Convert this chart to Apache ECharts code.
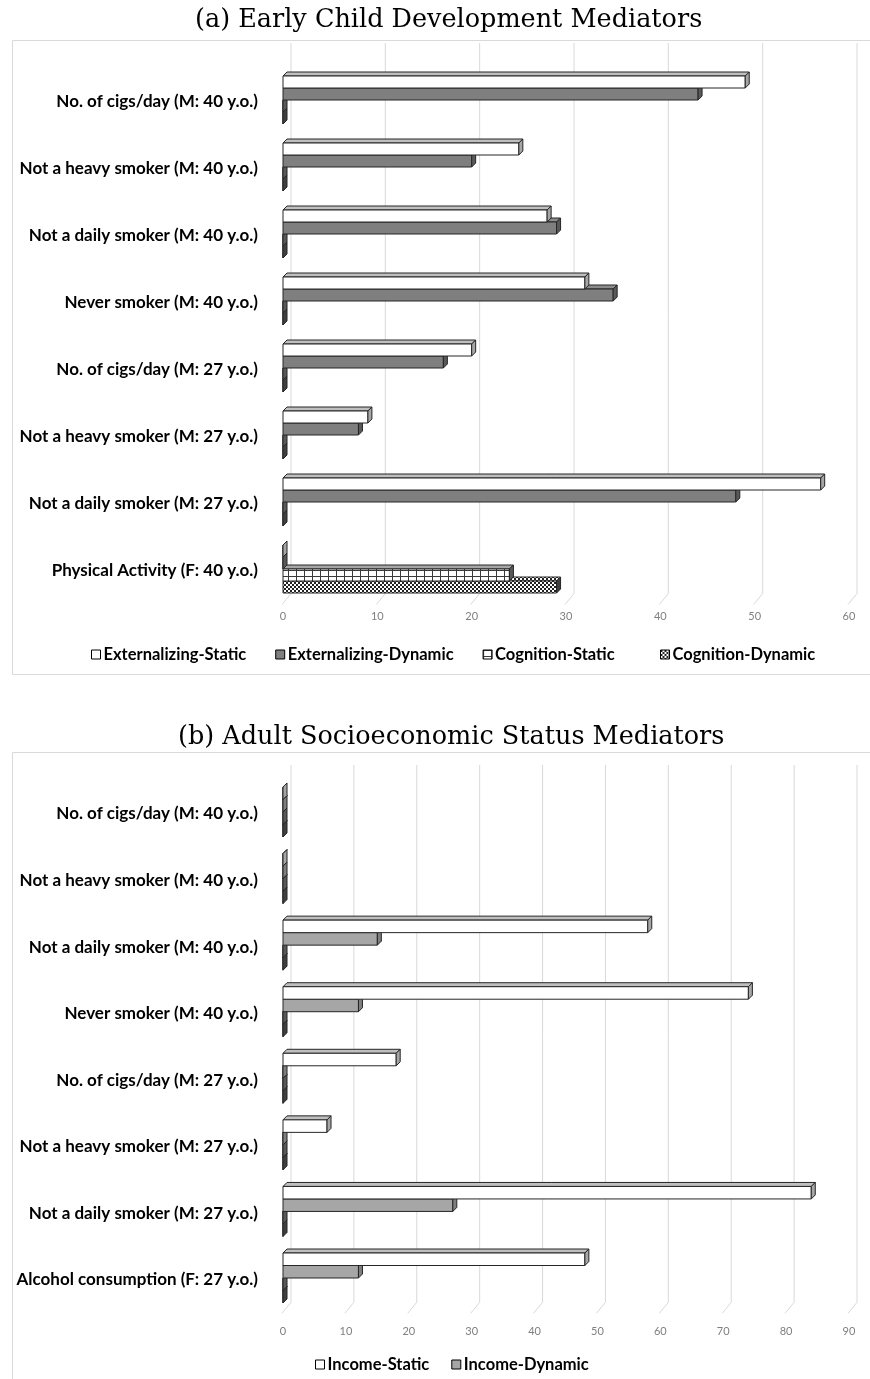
<!DOCTYPE html>
<html>
<head>
<meta charset="utf-8">
<script src="https://cdn.jsdelivr.net/npm/echarts@6/dist/echarts.min.js"></script>
<style>
html,body{margin:0;padding:0;background:#fff;}
#chart{width:870px;height:1379px;}
</style>
</head>
<body>
<div id="chart"></div>
<script>
// ---------- data ----------
const categoriesA = [
  'No. of cigs/day (M: 40 y.o.)',
  'Not a heavy smoker (M: 40 y.o.)',
  'Not a daily smoker (M: 40 y.o.)',
  'Never smoker (M: 40 y.o.)',
  'No. of cigs/day (M: 27 y.o.)',
  'Not a heavy smoker (M: 27 y.o.)',
  'Not a daily smoker (M: 27 y.o.)',
  'Physical Activity (F: 40 y.o.)'
];
const externalizingStatic  = [49, 25, 28, 32, 20, 9, 57, 0];
const externalizingDynamic = [44, 20, 29, 35, 17, 8, 48, 0];
const cognitionStatic      = [0, 0, 0, 0, 0, 0, 0, 24];
const cognitionDynamic     = [0, 0, 0, 0, 0, 0, 0, 29];
const ticksA = [0, 10, 20, 30, 40, 50, 60];

const categoriesB = [
  'No. of cigs/day (M: 40 y.o.)',
  'Not a heavy smoker (M: 40 y.o.)',
  'Not a daily smoker (M: 40 y.o.)',
  'Never smoker (M: 40 y.o.)',
  'No. of cigs/day (M: 27 y.o.)',
  'Not a heavy smoker (M: 27 y.o.)',
  'Not a daily smoker (M: 27 y.o.)',
  'Alcohol consumption (F: 27 y.o.)'
];
const incomeStatic  = [0, 0, 58, 74, 18, 7, 84, 48];
const incomeDynamic = [0, 0, 15, 12, 0, 0, 27, 12];
const otherStatic   = [0, 0, 0, 0, 0, 0, 0, 0];
const otherDynamic  = [0, 0, 0, 0, 0, 0, 0, 0];
const ticksB = [0, 10, 20, 30, 40, 50, 60, 70, 80, 90];

// ---------- patterns ----------
function gridPattern() {
  const c = document.createElement('canvas'); c.width = 8; c.height = 6;
  const g = c.getContext('2d');
  g.fillStyle = '#fff'; g.fillRect(0, 0, 8, 6);
  g.strokeStyle = '#3a3a3a'; g.lineWidth = 1;
  g.beginPath(); g.moveTo(0.5, 0); g.lineTo(0.5, 6); g.moveTo(0, 0.5); g.lineTo(8, 0.5); g.stroke();
  return { image: c, repeat: 'repeat' };
}
function checkerPattern() {
  const c = document.createElement('canvas'); c.width = 4; c.height = 4;
  const g = c.getContext('2d');
  g.fillStyle = '#fff'; g.fillRect(0, 0, 4, 4);
  g.fillStyle = '#222'; g.fillRect(0, 0, 2, 2); g.fillRect(2, 2, 2, 2);
  return { image: c, repeat: 'repeat' };
}
const gridPat = gridPattern();
const checkPat = checkerPattern();

const EDGE = '#262626';
const DEPTH = 4;

function barRenderer(idx, n, h, shift, front, topC, sideC) {
  return function (params, api) {
    const v = api.value(0), c = api.value(1);
    const s = api.coord([0, c]);
    const e = api.coord([v, c]);
    const gh = h * n;
    const top = s[1] - gh / 2 - shift + idx * h;
    const x0 = s[0], x1 = e[0], d = DEPTH;
    const st = { stroke: EDGE, lineWidth: 1 };
    return {
      type: 'group',
      children: [
        { type: 'polygon', shape: { points: [[x0, top], [x0 + d, top - d], [x1 + d, top - d], [x1, top]] },
          style: Object.assign({ fill: topC }, st) },
        { type: 'rect', shape: { x: x0, y: top, width: Math.max(0, x1 - x0), height: h },
          style: Object.assign({ fill: front }, st) },
        { type: 'polygon', shape: { points: [[x1, top], [x1 + d, top - d], [x1 + d, top + h - d], [x1, top + h]] },
          style: Object.assign({ fill: sideC }, st) }
      ]
    };
  };
}

function gridRenderer(topY, backOff, dropY) {
  return function (params, api) {
    const cs = params.coordSys;
    const x = api.coord([api.value(0), 0])[0];
    const yb = cs.y + cs.height;
    return {
      type: 'polyline',
      shape: { points: [[x + backOff, topY], [x + backOff, yb - dropY], [x - 1, yb]] },
      style: { stroke: '#d9d9d9', lineWidth: 1, fill: null }
    };
  };
}

function pairs(arr) { return arr.map((v, i) => [v, i]); }

function barSeries(name, arr, gi, idx, n, h, front, topC, sideC) {
  return {
    type: 'custom', name: name, xAxisIndex: gi, yAxisIndex: gi,
    data: pairs(arr), encode: { x: 0, y: 1 },
    z: 10 - idx, silent: true,
    itemStyle: { color: front, borderColor: EDGE, borderWidth: 1 },
    renderItem: barRenderer(idx, n, h, 2, front, topC, sideC)
  };
}

const labelFont = 'Lato';
const legendText = { fontFamily: labelFont, fontWeight: 'bold', fontSize: 16.5, color: '#000', padding: [0, 0, 0, -2] };
const chart = echarts.init(document.getElementById('chart'), null, { renderer: 'canvas' });

const option = {
  animation: false,
  backgroundColor: '#fff',
  title: [
    { text: '(a) Early Child Development Mediators', left: 190, top: 2,
      textStyle: { fontFamily: 'DejaVu Serif', fontWeight: 'normal', fontSize: 25.5, color: '#000' } },
    { text: '(b) Adult Socioeconomic Status Mediators', left: 173, top: 719,
      textStyle: { fontFamily: 'DejaVu Serif', fontWeight: 'normal', fontSize: 25.5, color: '#000' } }
  ],
  graphic: [
    { type: 'rect', shape: { x: 12.5, y: 40.5, width: 880, height: 634 }, style: { fill: null, stroke: '#d9d9d9', lineWidth: 1 }, silent: true },
    { type: 'rect', shape: { x: 12.5, y: 752.5, width: 880, height: 660 }, style: { fill: null, stroke: '#d9d9d9', lineWidth: 1 }, silent: true }
  ],
  legend: [
    { data: ['Externalizing-Static', 'Externalizing-Dynamic', 'Cognition-Static'],
      left: 86, top: 641, itemWidth: 9, itemHeight: 9, itemGap: 29, icon: 'rect',
      itemStyle: { borderColor: '#000', borderWidth: 1 }, textStyle: legendText },
    { data: ['Cognition-Dynamic'],
      left: 655, top: 641, itemWidth: 9, itemHeight: 9, icon: 'rect',
      itemStyle: { borderColor: '#000', borderWidth: 1 }, textStyle: legendText },
    { data: ['Income-Static', 'Income-Dynamic'],
      left: 310, top: 1351, itemWidth: 9, itemHeight: 9, itemGap: 22, icon: 'rect',
      itemStyle: { borderColor: '#000', borderWidth: 1 }, textStyle: legendText }
  ],
  grid: [
    { left: 283, right: 21, top: 68.5, height: 536 },
    { left: 283, right: 21, top: 780.7, height: 532.6 }
  ],
  xAxis: [
    { type: 'value', gridIndex: 0, min: 0, max: 60, interval: 10,
      axisLine: { show: false }, axisTick: { show: false }, splitLine: { show: false },
      axisLabel: { margin: 6, fontFamily: labelFont, fontSize: 11, color: '#7f7f7f' } },
    { type: 'value', gridIndex: 1, min: 0, max: 90, interval: 10,
      axisLine: { show: false }, axisTick: { show: false }, splitLine: { show: false },
      axisLabel: { margin: 13, fontFamily: labelFont, fontSize: 11, color: '#7f7f7f' } }
  ],
  yAxis: [
    { type: 'category', gridIndex: 0, data: categoriesA, inverse: true,
      axisLine: { show: false }, axisTick: { show: false }, splitLine: { show: false },
      axisLabel: { margin: 25, fontFamily: labelFont, fontWeight: 'bold', fontSize: 17, color: '#000' } },
    { type: 'category', gridIndex: 1, data: categoriesB, inverse: true,
      axisLine: { show: false }, axisTick: { show: false }, splitLine: { show: false },
      axisLabel: { margin: 25, fontFamily: labelFont, fontWeight: 'bold', fontSize: 17, color: '#000' } }
  ],
  series: [
    { type: 'custom', name: 'gridA', xAxisIndex: 0, yAxisIndex: 0, data: ticksA.map(t => [t, 0]),
      encode: { x: 0, y: 1 }, z: 1, silent: true, renderItem: gridRenderer(43, 8, 11) },
    { type: 'custom', name: 'gridB', xAxisIndex: 1, yAxisIndex: 1, data: ticksB.map(t => [t, 0]),
      encode: { x: 0, y: 1 }, z: 1, silent: true, renderItem: gridRenderer(765, 8, 11) },

    barSeries('Externalizing-Static', externalizingStatic, 0, 0, 4, 12, '#ffffff', '#bfbfbf', '#a6a6a6'),
    barSeries('Externalizing-Dynamic', externalizingDynamic, 0, 1, 4, 12, '#7f7f7f', '#8c8c8c', '#595959'),
    barSeries('Cognition-Static', cognitionStatic, 0, 2, 4, 12, gridPat, '#a6a6a6', '#595959'),
    barSeries('Cognition-Dynamic', cognitionDynamic, 0, 3, 4, 12, checkPat, checkPat, '#404040'),

    barSeries('Income-Static', incomeStatic, 1, 0, 4, 12.5, '#ffffff', '#bfbfbf', '#a6a6a6'),
    barSeries('Income-Dynamic', incomeDynamic, 1, 1, 4, 12.5, '#a6a6a6', '#a6a6a6', '#7f7f7f'),
    barSeries('Other-Static', otherStatic, 1, 2, 4, 12.5, gridPat, '#a6a6a6', '#595959'),
    barSeries('Other-Dynamic', otherDynamic, 1, 3, 4, 12.5, checkPat, checkPat, '#404040')
  ]
};
chart.setOption(option);
</script>
</body>
</html>
